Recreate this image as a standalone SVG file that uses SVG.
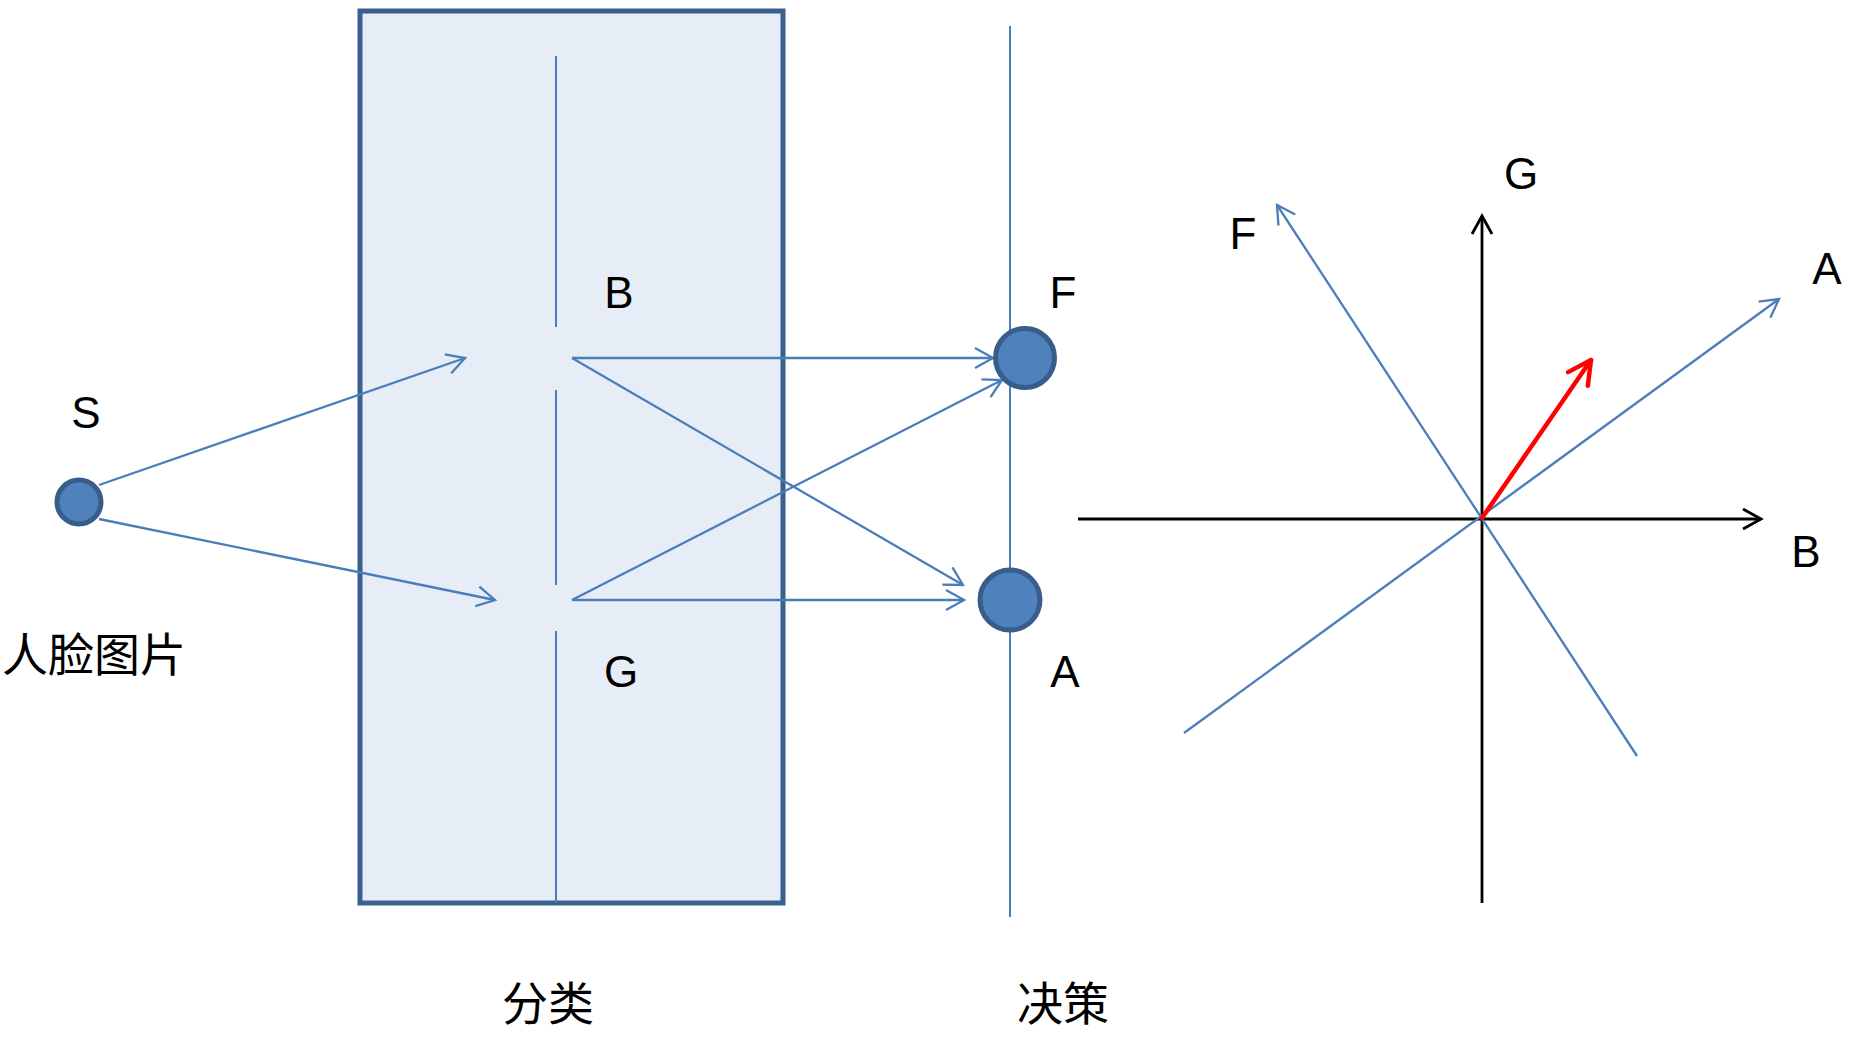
<svg xmlns="http://www.w3.org/2000/svg" width="1854" height="1038" viewBox="0 0 1854 1038">
<style>
.lbl{font-family:"Liberation Sans",Arial,sans-serif;font-size:44px;fill:#000;text-anchor:middle}
.cjk{font-family:"Noto Sans CJK SC","Noto Sans CJK JP",sans-serif;font-size:46px;fill:#000}
.conn{stroke:#4A7EBB;stroke-width:2.3;fill:none}
.node{fill:#4F81BD;stroke:#385D8A;stroke-width:5}
.axis{stroke:#000;stroke-width:2.8;fill:none}
</style>
<defs>
<marker id="arrB" markerUnits="userSpaceOnUse" markerWidth="26" markerHeight="26" viewBox="-22 -13 26 26" refX="0" refY="0" orient="auto">
<path d="M-18,-10 L0,0 L-18,10" fill="none" stroke="#4A7EBB" stroke-width="2.3"/>
</marker>
<marker id="arrK" markerUnits="userSpaceOnUse" markerWidth="26" markerHeight="26" viewBox="-22 -13 26 26" refX="0" refY="0" orient="auto">
<path d="M-18,-10 L0,0 L-18,10" fill="none" stroke="#000" stroke-width="2.8"/>
</marker>
<marker id="arrR" markerUnits="userSpaceOnUse" markerWidth="36" markerHeight="36" viewBox="-30 -18 36 36" refX="0" refY="0" orient="auto">
<path d="M-23,-12 L0,0 L-23,12" fill="none" stroke="#FF0000" stroke-width="4.5" stroke-linecap="round" stroke-linejoin="round"/>
</marker>
</defs>

<g id="classifier">
<rect x="360" y="11" width="423" height="892" fill="#E7EDF6" stroke="#3B5F8F" stroke-width="5"/>
<line x1="556" y1="56" x2="556" y2="327" stroke="#4A7EBB" stroke-width="2"/>
<line x1="556" y1="390" x2="556" y2="585" stroke="#4A7EBB" stroke-width="2"/>
<line x1="556" y1="631" x2="556" y2="903" stroke="#4A7EBB" stroke-width="2"/>
<text class="lbl" x="619" y="308">B</text>
<text class="lbl" x="621" y="687">G</text>
<text class="cjk" x="548" y="1020" text-anchor="middle">分类</text>
</g>

<g id="decision">
<line x1="1010" y1="26" x2="1010" y2="917" stroke="#4A7EBB" stroke-width="2"/>
<text class="cjk" x="1063" y="1020" text-anchor="middle">决策</text>
</g>

<g id="connectors">
<line class="conn" x1="99" y1="485" x2="465" y2="358" marker-end="url(#arrB)"/>
<line class="conn" x1="99" y1="519" x2="495" y2="600" marker-end="url(#arrB)"/>
<line class="conn" x1="572" y1="358" x2="993" y2="358" marker-end="url(#arrB)"/>
<line class="conn" x1="572" y1="358" x2="963" y2="585" marker-end="url(#arrB)"/>
<line class="conn" x1="572" y1="600" x2="1002" y2="380" marker-end="url(#arrB)"/>
<line class="conn" x1="572" y1="600" x2="964" y2="600" marker-end="url(#arrB)"/>
</g>

<g id="node-S">
<circle class="node" cx="79" cy="502" r="22" stroke-width="4"/>
<text class="lbl" x="86" y="428">S</text>
<text class="cjk" x="2" y="671">人脸图片</text>
</g>

<g id="node-F">
<circle class="node" cx="1025" cy="358" r="29.5"/>
<text class="lbl" x="1063" y="308">F</text>
</g>

<g id="node-A">
<circle class="node" cx="1010" cy="600" r="30"/>
<text class="lbl" x="1065" y="687">A</text>
</g>

<g id="vector-chart">
<line class="axis" x1="1078" y1="519" x2="1761" y2="519" marker-end="url(#arrK)"/>
<line class="axis" x1="1482" y1="903" x2="1482" y2="216" marker-end="url(#arrK)"/>
<line class="conn" x1="1184" y1="733" x2="1779" y2="299" marker-end="url(#arrB)"/>
<line class="conn" x1="1637" y1="756" x2="1277" y2="205" marker-end="url(#arrB)"/>
<line x1="1482" y1="518" x2="1591" y2="360" stroke="#FF0000" stroke-width="4.5" stroke-linecap="round" marker-end="url(#arrR)"/>
<text class="lbl" x="1521" y="189">G</text>
<text class="lbl" x="1243" y="249">F</text>
<text class="lbl" x="1827" y="284">A</text>
<text class="lbl" x="1806" y="567">B</text>
</g>
</svg>
